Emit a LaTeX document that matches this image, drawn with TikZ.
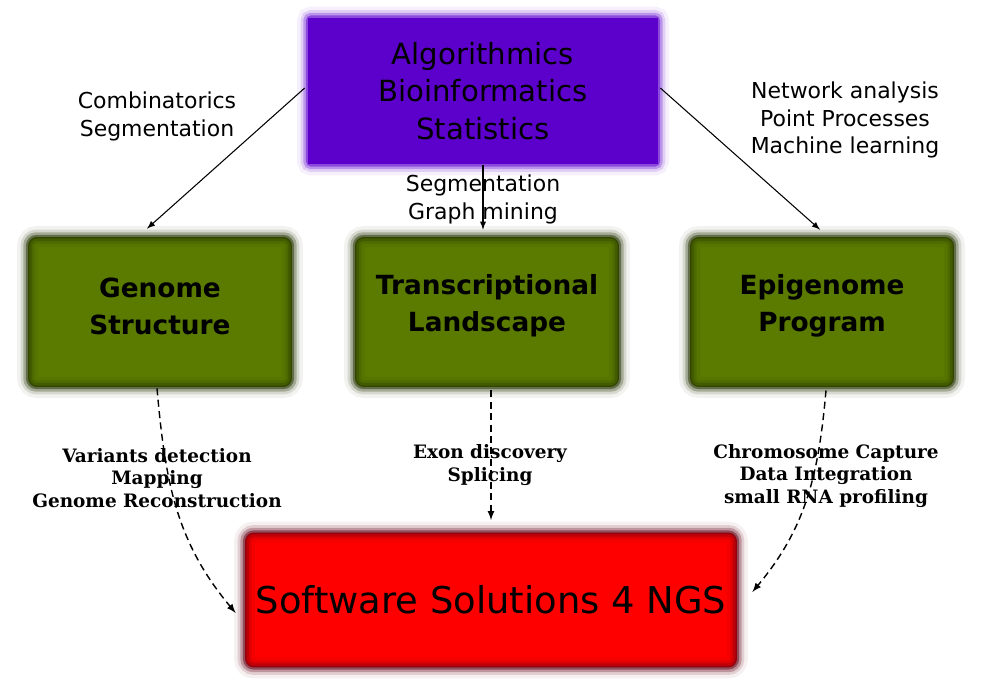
\documentclass[tikz,border=0pt]{standalone}
\usepackage{fontspec}
\setmainfont{DejaVu Sans}
\newfontfamily\labserif{DejaVu Serif}
\usetikzlibrary{arrows,shapes,calc,positioning}

\definecolor{algpurple}{RGB}{92,0,204}
\definecolor{topicgreen}{RGB}{90,122,0}
\definecolor{topicedge}{RGB}{36,50,0}
\definecolor{ngsred}{RGB}{255,0,0}
\definecolor{ngsedge}{RGB}{100,0,20}

\tikzset{
  algbox/.style={rectangle, fill=algpurple, minimum width=7cm, minimum height=2.94cm,
    align=center, font=\fontsize{16.6}{21.3}\selectfont},
  topicbox/.style={rectangle, rounded corners=5pt, fill=topicgreen, minimum width=5.28cm,
    minimum height=3cm},
  topictext/.style={align=center, font=\fontsize{15}{21}\selectfont\bfseries},
  ngsbox/.style={rectangle, rounded corners=5pt, fill=ngsred, minimum width=9.84cm,
    minimum height=2.7cm, align=center, font=\fontsize{21}{25}\selectfont},
  methlabel/.style={align=center, font=\fontsize{12.5}{15.9}\selectfont},
  toollabel/.style={align=center, font=\labserif\bfseries\fontsize{10.5}{13}\selectfont},
  solidarrow/.style={->, line width=0.6pt},
  dasharrow/.style={->, line width=0.8pt, dash pattern=on 4pt off 2.5pt}
}

\begin{document}
\begin{tikzpicture}[x=0.02cm, y=0.02cm, >=latex]
 \useasboundingbox (0,0) rectangle (996,684);

 %level 1
 \node[algbox] (alg) at (483,593) {Algorithmics\\Bioinformatics\\Statistics};

 %level 2
 \foreach \x/\id/\name in {160/gs/Genome\\Structure, 487/tl/Transcriptional\\Landscape, 822/ep/Epigenome\\Program} {
   \node[topicbox] (\id) at (\x,372) {};
   \node[topictext] (\id-txt) at ($(\id)+(0,6)$) {\name};
 }

 %level 3
 \node[ngsbox] (ngs) at (491,84) {Software Solutions 4 NGS};

 %blurred edges
 \foreach \id/\col/\r in {alg/algpurple/2pt, gs/topicedge/5pt, tl/topicedge/5pt, ep/topicedge/5pt, ngs/ngsedge/5pt} {
   \foreach \w/\o in {12/0.06, 8/0.14, 5/0.28, 2/0.5} {
     \draw[\col, line width=\w pt, opacity=\o, rounded corners=\r] (\id.south west) rectangle (\id.north east);
   }
 }

 %methods
 \node[methlabel] (comb) at (157,568) {Combinatorics\\Segmentation};
 \node[methlabel] (segm) at (483,485) {Segmentation\\Graph mining};
 \node[methlabel] (netw) at (845,564) {Network analysis\\Point Processes\\Machine learning};

 \draw[solidarrow] ($(alg.west)+(-3,3)$) -- ($(gs.north)+(-13,8)$);
 \draw[solidarrow] (alg.south) -- ($(alg.south |- tl.north)+(0,7)$);
 \draw[solidarrow] ($(alg.east)+(2,3)$) -- ($(ep.north)+(-2,7)$);

 %tools
 \node[toollabel] (var) at (157,206) {Variants detection\\Mapping\\Genome Reconstruction};
 \node[toollabel] (exon) at (490,219) {Exon discovery\\Splicing};
 \node[toollabel] (chrom) at (826,208) {Chromosome Capture\\Data Integration\\small RNA profiling};

 \draw[dasharrow] ($(gs.south)+(-3,-1)$) to[out=-85, in=130] ($(ngs.west)+(-9,-13)$);
 \draw[dasharrow] ($(tl.south)+(4,-3)$) -- ($(ngs.north)+(0,12)$);
 \draw[dasharrow] ($(ep.south)+(4,-3)$) to[out=-95, in=50] ($(ngs.east)+(15,8)$);

\end{tikzpicture}
\end{document}
